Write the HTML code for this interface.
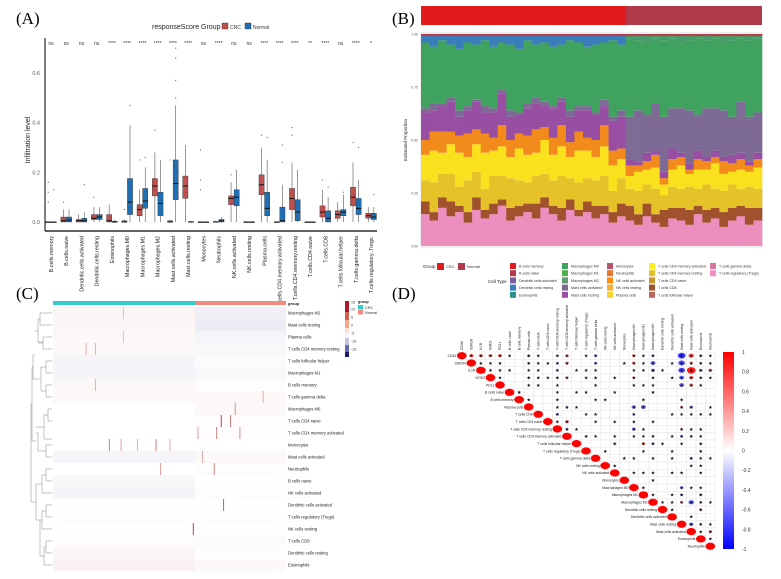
<!DOCTYPE html>
<html><head><meta charset="utf-8">
<style>
html,body{margin:0;padding:0;background:#fff;}
svg{display:block;font-family:"Liberation Sans",sans-serif;}
.pl{font-family:"Liberation Serif",serif;font-size:17px;}
</style></head>
<body>
<svg id="fig" width="781" height="579" viewBox="0 0 781 579">
<text class="pl" x="16" y="24">(A)</text>
<text class="pl" x="392" y="24">(B)</text>
<text class="pl" x="16" y="299">(C)</text>
<text class="pl" x="392" y="299">(D)</text>
<g id="pa"></g>
<g id="pb"></g>
<g id="pc"></g>
<g id="pd"></g>
</svg>
<script>
// ---------- Panel A data ----------
const catsA=["B.cells.memory","B.cells.naive","Dendritic.cells.activated","Dendritic.cells.resting","Eosinophils","Macrophages.M0","Macrophages.M1","Macrophages.M2","Mast.cells.activated","Mast.cells.resting","Monocytes","Neutrophils","NK.cells.activated","NK.cells.resting","Plasma.cells","T.cells.CD4.memory.activated","T.cells.CD4.memory.resting","T.cells.CD4.naive","T.cells.CD8","T.cells.follicular.helper","T.cells.gamma.delta","T.cells.regulatory..Tregs."];
// [q1, median, q3, upper whisker]
const crcBox=[[0,0,0,0],[0,.005,.02,.05],[0,.005,.01,.03],[.01,.015,.03,.06],[0,.005,.03,.07],[0,0,.005,.01],[.025,.05,.07,.13],[.105,.145,.175,.28],[0,0,.005,.01],[.095,.145,.185,.31],[0,0,0,0],[0,0,.002,.005],[.07,.095,.105,.16],[0,0,0,0],[.11,.15,.19,.30],[0,0,0,0],[.05,.095,.135,.24],[0,0,0,0],[.02,.04,.065,.13],[.015,.03,.045,.08],[.065,.10,.14,.24],[.015,.025,.035,.06]];
const normBox=[[0,0,0,0],[0,.008,.02,.05],[0,.005,.015,.04],[.01,.02,.03,.06],[0,0,.003,.01],[.03,.08,.175,.39],[.055,.085,.135,.22],[.025,.075,.12,.25],[.09,.155,.25,.47],[0,0,.002,.005],[0,0,0,0],[0,.005,.01,.02],[.065,.10,.13,.21],[0,0,0,0],[.025,.055,.12,.25],[0,.005,.06,.15],[.005,.04,.09,.21],[0,0,0,0],[0,.015,.045,.10],[.025,.04,.05,.11],[.03,.055,.095,.17],[.01,.02,.035,.06]];
const sigA=["ns","ns","ns","ns","****","****","****","****","****","****","ns","****","ns","ns","****","****","****","**","****","ns","****","*"];
// outliers: [category, group(0 CRC,1 Normal), value]
const outA=[[0,0,.16],[0,0,.12],[0,0,.08],[0,1,.13],[1,0,.08],[2,1,.15],[3,0,.1],[5,1,.47],[5,0,.05],[6,0,.25],[6,1,.26],[7,0,.37],[8,1,.7],[8,1,.66],[8,1,.57],[8,1,.5],[8,0,.25],[10,0,.29],[10,0,.17],[10,0,.13],[12,0,.19],[14,0,.35],[14,1,.34],[15,1,.31],[15,1,.24],[16,0,.38],[16,0,.35],[18,0,.17],[18,1,.14],[19,1,.12],[20,0,.32],[20,1,.3],[21,1,.11]];
const ticksA=[0,0.2,0.4,0.6];

const NS="http://www.w3.org/2000/svg";
function mk(p,tag,at,txt){const e=document.createElementNS(NS,tag);for(const k in at)e.setAttribute(k,at[k]);if(txt!==undefined)e.textContent=txt;p.appendChild(e);return e;}

(function(){
const g=document.getElementById('pa');
const yA=v=>222-v*248.3, xA=i=>51+i*15.24;
const t=mk(g,'text',{x:152,y:29,'font-size':7,fill:'#222'},'responseScore Group');

[[222,'#c0504d','CRC'],[245,'#1f6fb2','Normal']].forEach(d=>{
 const r=mk(g,'rect',{x:d[0],y:23,width:6,height:6,fill:d[1],stroke:'#333','stroke-width':.4});
 
 const l=mk(g,'text',{x:d[0]+8,y:29,'font-size':5,fill:'#333'},d[2]);
 });
ticksA.forEach(v=>{const l=mk(g,'text',{x:40,y:yA(v)+2,'font-size':5.5,fill:'#555','text-anchor':'end'},v.toFixed(1));
 });
const yt=mk(g,'text',{x:0,y:0,'font-size':7,fill:'#222','text-anchor':'middle',transform:'translate(30,140) rotate(-90)'},'Infiltration level');

const ya=mk(g,'line',{x1:45,y1:38,x2:45,y2:231,stroke:'#000','stroke-width':1});

const xa=mk(g,'line',{x1:45,y1:231,x2:377,y2:231,stroke:'#000','stroke-width':1.2});

catsA.forEach((c,i)=>{
 const cx=xA(i);
 [[crcBox[i],'#c0504d',-2.8,'crc'],[normBox[i],'#1f6fb2',2.8,'normal']].forEach(b=>{
  const d=b[0],bx=cx+b[2];
  const w=mk(g,'line',{x1:bx,y1:yA(d[3]),x2:bx,y2:yA(0),stroke:'#555','stroke-width':.6});
  
  const r=mk(g,'rect',{x:bx-2.6,y:yA(d[2]),width:5.2,height:Math.max(.6,yA(d[0])-yA(d[2])),fill:b[1],stroke:'#333','stroke-width':.4});
  
  const m=mk(g,'line',{x1:bx-2.6,y1:yA(d[1]),x2:bx+2.6,y2:yA(d[1]),stroke:'#111','stroke-width':1});
  
 });
 const s=mk(g,'text',{x:cx,y:45,'font-size':5,fill:'#333','text-anchor':'middle'},sigA[i]);
 
 const l=mk(g,'text',{x:0,y:0,'font-size':5.3,fill:'#222','text-anchor':'end',transform:`translate(${cx+2},236) rotate(-90)`},c);
 
});
outA.forEach(o=>{const p=mk(g,'circle',{cx:xA(o[0])+(o[1]?2.8:-2.8),cy:yA(o[2]),r:.6,fill:'#666'});
 });
})();

// ---------- Panel B data ----------
const groupsB=["CRC","CRC","CRC","CRC","CRC","CRC","CRC","CRC","CRC","CRC","CRC","CRC","CRC","CRC","CRC","CRC","CRC","CRC","CRC","CRC","CRC","CRC","CRC","CRC","Normal","Normal","Normal","Normal","Normal","Normal","Normal","Normal","Normal","Normal","Normal","Normal","Normal","Normal","Normal","Normal"];
const pinkB=[.15,.12,.18,.14,.16,.11,.17,.13,.15,.19,.12,.14,.16,.13,.18,.15,.12,.17,.14,.16,.13,.15,.11,.14,.12,.10,.14,.11,.09,.13,.12,.10,.15,.11,.13,.09,.12,.14,.10,.12];
const brownB=[.06,.04,.05,.07,.03,.05,.06,.04,.05,.03,.06,.05,.04,.07,.05,.04,.06,.05,.03,.05,.06,.04,.05,.06,.07,.05,.06,.04,.08,.05,.06,.07,.04,.06,.05,.07,.06,.05,.08,.06];
const goldB=[.10,.14,.11,.13,.09,.15,.12,.10,.13,.11,.14,.12,.10,.13,.11,.12,.15,.10,.13,.11,.12,.14,.10,.12,.08,.11,.09,.12,.07,.10,.09,.11,.08,.12,.09,.10,.11,.08,.10,.09];
const yellowB=[.12,.15,.10,.14,.16,.11,.13,.17,.12,.14,.10,.15,.13,.11,.16,.12,.14,.10,.15,.13,.11,.14,.12,.09,.06,.09,.07,.10,.05,.08,.11,.06,.09,.07,.12,.08,.06,.09,.07,.10];
const orangeB=[.07,.09,.10,.06,.08,.11,.07,.09,.06,.10,.08,.07,.09,.11,.06,.08,.10,.07,.09,.06,.08,.10,.07,.05,.05,.03,.04,.06,.03,.05,.04,.02,.05,.04,.03,.06,.04,.05,.03,.04];
const purpleB=[.13,.10,.12,.14,.09,.11,.13,.10,.12,.15,.11,.09,.13,.12,.10,.14,.11,.12,.10,.13,.12,.09,.14,.15,.03,.02,.04,.02,.03,.05,.02,.03,.04,.02,.03,.02,.04,.03,.02,.03];
const mauveB=[.02,.03,.01,.02,.03,.02,.01,.03,.02,.02,.03,.01,.02,.03,.02,.01,.02,.03,.02,.02,.01,.03,.02,.03,.20,.24,.18,.22,.26,.19,.21,.25,.17,.23,.20,.22,.18,.24,.21,.19];
const topB=[.04,.06,.03,.05,.07,.04,.05,.03,.06,.04,.05,.07,.03,.05,.04,.06,.05,.03,.04,.06,.05,.04,.03,.05,.02,.03,.04,.02,.03,.02,.04,.03,.02,.03,.02,.04,.03,.02,.03,.02];
const ticksB=[0,0.25,0.5,0.75,1];
const cellTypesB=[["B cells memory","#e31a1c"],["B cells naive","#b03a4a"],["Dendritic cells activated","#7a5c9e"],["Dendritic cells resting","#3a7dbb"],["Eosinophils","#2f8f8a"],["Macrophages M0","#3fa35f"],["Macrophages M1","#4cb04a"],["Macrophages M2","#5e9e6e"],["Mast cells activated","#7d6b95"],["Mast cells resting","#984ea3"],["Monocytes","#b5566e"],["Neutrophils","#e8772e"],["NK cells activated","#ff8c00"],["NK cells resting","#f2b134"],["Plasma cells","#f7d033"],["T cells CD4 memory activated","#ffee22"],["T cells CD4 memory resting","#e6c229"],["T cells CD4 naive","#c8962a"],["T cells CD8","#a0522d"],["T cells follicular helper","#c0645a"],["T cells gamma delta","#d9779b"],["T cells regulatory (Tregs)","#f08fc0"]];

(function(){
const g=document.getElementById('pb');
const x0=421,x1=762,yB=v=>246-v*212;
const gb1=mk(g,'rect',{x:421,y:6,width:205,height:19,fill:'#e31a1c'});

const gb2=mk(g,'rect',{x:626,y:6,width:136,height:19,fill:'#b03a4a'});

const fr=mk(g,'rect',{x:x0,y:33,width:x1-x0,height:214,fill:'#fff',stroke:'#ccc','stroke-width':.6});

const layers=[[pinkB,'#ec8fbf'],[brownB,'#a0522d'],[goldB,'#e6c229'],[yellowB,'#f9e11e'],[orangeB,'#f28a1c'],[purpleB,'#984ea3'],[mauveB,'#7d6b95']];
const n=groupsB.length,bw=(x1-x0)/n;
for(let i=0;i<n;i++){
 let acc=0;const bx=x0+i*bw;
 layers.forEach(L=>{const v=L[0][i];
  const r=mk(g,'rect',{x:bx,y:yB(acc+v),width:bw+.3,height:yB(acc)-yB(acc+v),fill:L[1]});
  acc+=v;});
 const topStart=1-topB[i];
 const gr=mk(g,'rect',{x:bx,y:yB(topStart),width:bw+.3,height:yB(acc)-yB(topStart),fill:'#3fa35f'});
 
 const tp=mk(g,'rect',{x:bx,y:yB(1),width:bw+.3,height:yB(topStart)-yB(1),fill:groupsB[i]=='CRC'?'#3a7dbb':'#4a9a6a'});
 
 const rd=mk(g,'rect',{x:bx,y:yB(1),width:bw+.3,height:2,fill:'#c0394b'});
 
}
ticksB.forEach(v=>{const l=mk(g,'text',{x:418,y:yB(v)+1.5,'font-size':3.5,fill:'#555','text-anchor':'end'},v.toFixed(2));
 });
const yt=mk(g,'text',{x:0,y:0,'font-size':4.5,fill:'#222','text-anchor':'middle',transform:'translate(407,140) rotate(-90)'},'Estimated Proportion');

const gt=mk(g,'text',{x:423,y:268,'font-size':4.5,fill:'#222'},'Group');

[[437,'#e31a1c','CRC'],[458,'#b03a4a','Normal']].forEach(d=>{
 const r=mk(g,'rect',{x:d[0],y:263,width:7,height:7,fill:d[1]});
 const l=mk(g,'text',{x:d[0]+9,y:268,'font-size':4,fill:'#333'},d[2]);});
const ct=mk(g,'text',{x:488,y:283,'font-size':4.5,fill:'#222'},'Cell Type');

const colsX=[510,562,607,649,710];
cellTypesB.forEach((c,i)=>{const col=Math.floor(i/5),row=i%5;
 const cx=colsX[col],cy=263+row*7.2;
 const r=mk(g,'rect',{x:cx,y:cy,width:6,height:6,fill:c[1]});
 const l=mk(g,'text',{x:cx+9,y:cy+4.5,'font-size':3.6,fill:'#333'},c[0]);});
})();

// ---------- Panel C data ----------
const rowsC=["Macrophages M2","Mast cells resting","Plasma cells","T cells CD4 memory resting","T cells follicular helper","Macrophages M1","B cells memory","T cells gamma delta","Macrophages M0","T cells CD4 naive","T cells CD4 memory activated","Monocytes","Mast cells activated","Neutrophils","B cells naive","NK cells activated","Dendritic cells activated","T cells regulatory (Tregs)","NK cells resting","T cells CD8","Dendritic cells resting","Eosinophils"];
const crcTint=[1.5,1.5,1,1,-1.5,-1.5,1,1,0,0,0,0,-1.5,0,-1,-1.5,0,0.5,0,0.5,1.5,2];
const normTint=[-2,-2.5,-1.5,-1,-0.5,-1,0.5,1,1,0.5,0.5,0,1,0.5,0,0.5,0,0.5,0,-0.5,0.5,1];
// stripes: [row, position 0..1 across samples, value]
const stripesC=[[11,0.24,9],[11,0.29,7],[11,0.36,6],[11,0.44,10],[11,0.5,6],[13,0.46,8],[9,0.72,14],[9,0.76,10],[10,0.7,9],[10,0.8,8],[10,0.62,7],[8,0.78,8],[16,0.73,12],[18,0.6,14],[3,0.14,6],[3,0.18,6],[0,0.3,5],[12,0.64,7],[13,0.69,9],[7,0.9,6],[6,0.18,6],[2,0.3,5]];

(function(){
const g=document.getElementById('pc');
const x0=53,x1=286,y0=307,rh=12,split=195;
const col=(v,s)=>{const a=Math.min(1,Math.abs(v)/s);return v>=0?`rgb(${255-a*75},${255-a*200},${255-a*200})`:`rgb(${255-a*225},${255-a*225},${255-a*130})`;};
const b1=mk(g,'rect',{x:x0,y:301,width:split-x0,height:4,fill:'#33cccc'});
const b2=mk(g,'rect',{x:split,y:301,width:x1-split,height:4,fill:'#f08b7d'});
const gl=mk(g,'text',{x:288,y:305,'font-size':4,fill:'#222','font-weight':'bold'},'group');
rowsC.forEach((r,i)=>{const y=y0+i*rh;
 const a=mk(g,'rect',{x:x0,y:y,width:split-x0,height:rh,fill:col(crcTint[i],30)});
 const b=mk(g,'rect',{x:split,y:y,width:x1-split,height:rh,fill:col(normTint[i],30)});
 const l=mk(g,'text',{x:288,y:y+7.5,'font-size':4.2,fill:'#222'},r);
});
stripesC.forEach(s=>{const sr=mk(g,'rect',{x:x0+s[1]*(x1-x0),y:y0+s[0]*rh,width:1,height:rh,fill:col(s[2],15)});
 });
const dp="M52,313H40V325H52M40,319H38V342H43M52,337H43V349H52M43,343H38M38,331H35M52,361H46V373H52M52,385H46V397H52M46,367H41V391H46M41,379H35M35,355H33V379H35M52,409H48V421H52M48,415H44V439H52M44,427H36M52,445H46V457H52M46,451H38V433H36M36,441H32V367H33M52,469H46V481H52M46,475H42V493H52M42,484H36M52,505H46V517H52M46,511H42V529H52M42,520H40M52,541H46V553H52M46,547H44V565H52M44,556H40V520H36V484M36,502H31V404H32";
const d=mk(g,'path',{d:dp,fill:'none',stroke:'#888','stroke-width':.5});
const cb=[[301,'#b2182b'],[312,'#d6604d'],[320,'#f4a582'],[328,'#fbe0d8'],[333,'#f4f4fb'],[338,'#c5c5e0'],[345,'#6a6ab0'],[352,'#1a1a6e']];
cb.forEach((c,i)=>{const h=(i<cb.length-1?cb[i+1][0]:357)-c[0];
 const r=mk(g,'rect',{x:345,y:c[0],width:4,height:h,fill:c[1]});});
[["15",302],["10",309],["5",317],["0",325],["-5",333],["-10",341],["-15",349]].forEach(t=>{
 const l=mk(g,'text',{x:351,y:t[1]+1.5,'font-size':3.6,fill:'#333'},t[0]);});
const lt=mk(g,'text',{x:358,y:303,'font-size':3.8,fill:'#222','font-weight':'bold'},'group');
[[305,'#33cccc','CRC'],[310,'#f08b7d','Normal']].forEach(d2=>{
 const r=mk(g,'rect',{x:358,y:d2[0],width:5,height:4.5,fill:d2[1]});
 const l=mk(g,'text',{x:365,y:d2[0]+3.8,'font-size':3.8,fill:'#333'},d2[2]);});
})();

// ---------- Panel D data ----------
const varsD=["CD44","SSR2N","IL1R","NOD2","PDL1","B cells naive","B cells memory","Plasma cells","T cells CD8","T cells CD4 naive","T cells CD4 memory resting","T cells CD4 memory activated","T cells follicular helper","T cells regulatory (Tregs)","T cells gamma delta","NK cells resting","NK cells activated","Monocytes","Macrophages M0","Macrophages M1","Macrophages M2","Dendritic cells resting","Dendritic cells activated","Mast cells resting","Mast cells activated","Eosinophils","Neutrophils"];
// [row, col, r, significant(1/0)]
const corrD=[[0,1,.5,1],[0,2,.45,1],[0,3,.45,1],[0,4,.45,1],[0,5,.12,1],[0,7,-.35,1],[0,8,-.2,1],[0,10,-.3,1],[0,11,.4,1],[0,13,.1,1],[0,14,-.35,1],[0,18,.4,1],[0,19,.2,1],[0,20,-.35,1],[0,23,-.8,1],[0,24,.6,1],[0,25,-.35,1],[0,26,.2,1],
[1,2,.2,1],[1,3,.2,1],[1,4,.2,1],[1,7,-.3,1],[1,8,-.2,1],[1,9,.1,1],[1,10,-.3,1],[1,11,.4,1],[1,14,-.35,1],[1,17,.1,1],[1,18,.4,1],[1,19,.2,1],[1,20,-.55,1],[1,22,.1,1],[1,23,-.7,1],[1,24,.4,1],[1,25,-.3,1],[1,26,.2,1],
[2,3,.2,1],[2,4,.2,1],[2,5,.12,1],[2,7,-.25,1],[2,8,.2,1],[2,10,-.3,1],[2,12,.1,1],[2,13,.1,1],[2,14,.2,1],[2,18,.2,1],[2,19,.2,1],[2,20,-.45,1],[2,21,.15,1],[2,23,-.7,1],[2,24,.9,1],[2,25,-.4,1],[2,26,.45,1],
[3,4,.2,1],[3,7,-.3,1],[3,8,.2,1],[3,9,.1,1],[3,10,-.3,1],[3,11,.35,1],[3,13,.1,1],[3,14,.2,1],[3,16,.1,1],[3,18,.35,1],[3,20,.2,1],[3,22,.1,1],[3,23,-.55,1],[3,24,.5,1],[3,25,-.3,1],[3,26,.2,1],
[4,7,-.2,1],[4,8,.2,1],[4,10,.2,1],[4,14,.2,1],[4,18,.2,1],[4,19,.2,1],[4,20,.2,1],[4,23,-.55,1],[4,24,.45,1],[4,25,.2,1],
[5,6,-.3,1],[5,10,.15,1],[5,12,.15,1],[5,13,.12,1],[5,16,.12,1],[5,20,-.3,1],[6,7,.1,1],[6,10,.2,1],[6,14,.15,1],[6,15,.12,1],[6,19,.15,1],[6,23,.12,1],
[7,10,.15,1],[7,11,-.3,1],[7,12,.2,1],[7,18,-.5,1],[7,19,-.55,1],[7,23,.35,1],[7,24,-.4,1],[7,26,.15,1],
[8,10,-.35,1],[8,13,.12,1],[8,14,.15,1],[8,18,-.3,1],[8,22,.12,1],[8,23,.15,1],[8,24,.15,1],[8,25,.15,1],[8,26,.15,1],
[9,10,.15,1],[9,11,.45,1],[9,14,.15,1],[9,16,.12,1],[9,18,.15,1],[9,20,.15,1],[10,11,-.35,1],[10,12,.12,1],[10,18,-.45,1],[10,19,.2,1],[10,23,.3,1],[10,24,.15,1],[10,25,.15,1],
[11,13,-.3,1],[11,14,.2,1],[11,16,.15,1],[11,18,.2,1],[11,19,.15,1],[11,20,-.3,1],[11,22,.12,1],[11,23,-.35,1],[11,24,-.3,1],[11,25,.15,1],
[12,16,.35,1],[12,19,.4,1],[12,20,-.35,1],[12,21,.12,1],[12,23,.15,1],[12,25,-.3,1],[13,15,.12,1],[13,19,.15,1],[13,22,.12,1],[13,25,.3,1],
[14,17,.12,1],[14,18,.12,1],[14,20,.12,1],[14,22,.12,1],[14,24,-.35,1],[14,25,.15,1],[14,26,.15,1],[15,16,.12,1],[15,24,.15,1],[15,25,.15,1],
[16,18,.15,1],[16,19,.15,1],[16,20,.15,1],[16,22,.15,1],[16,23,.15,1],[16,25,.15,1],[17,20,.15,1],[18,19,.15,1],[18,23,-.4,1],[18,24,.15,1],[18,25,.15,1],
[19,20,.15,1],[19,22,.12,1],[19,23,-.35,1],[19,25,-.35,1],[20,21,.15,1],[20,22,.15,1],[20,23,.35,1],[20,24,-.6,1],[20,25,.3,1],[20,26,.15,1],
[21,22,.15,1],[21,25,.35,1],[22,24,.15,1],[23,24,-.5,1],[23,25,.35,1],[23,26,.15,1],[24,25,.2,1],[24,26,.4,1],[25,26,.15,1]];
const ticksD=[1,0.8,0.6,0.4,0.2,0,-0.2,-0.4,-0.6,-0.8,-1];

(function(){
const g=document.getElementById('pd');
const x0=457,y0=352,cw=9.56,ch=7.33,n=varsD.length;
const cx=j=>x0+j*cw+cw/2, cy=i=>y0+i*ch+ch/2;
const colr=v=>{const a=Math.min(1,Math.abs(v));return v>=0?`rgb(255,${Math.round(255*(1-a))},${Math.round(255*(1-a))})`:`rgb(${Math.round(255*(1-a))},${Math.round(255*(1-a))},255)`;};
for(let i=0;i<n;i++){for(let j=i;j<n;j++){
 const c=mk(g,'rect',{x:x0+j*cw,y:y0+i*ch,width:cw,height:ch,fill:'none',stroke:'#e4e4e4','stroke-width':.4});
 }}
for(let i=0;i<n;i++){
 const e=mk(g,'ellipse',{cx:cx(i),cy:cy(i),rx:4.8,ry:3.6,fill:colr(1)});
 const l=mk(g,'text',{x:cx(i)-5.5,y:cy(i)+1.3,'font-size':3.4,fill:'#222','text-anchor':'end'},varsD[i]);
 
 const t=mk(g,'text',{x:0,y:0,'font-size':3.4,fill:'#222',transform:`translate(${cx(i)+1.2},${y0-2}) rotate(-90)`},varsD[i]);
 
}
corrD.forEach(d=>{const a=Math.abs(d[2]);
 const e=mk(g,'ellipse',{cx:cx(d[1]),cy:cy(d[0]),rx:4.8*a,ry:3.6*a,fill:colr(d[2])});
 
 if(d[3]){const s=mk(g,'text',{x:cx(d[1]),y:cy(d[0])+1.8,'font-size':5,fill:'#111','text-anchor':'middle'},'★');
  }
});
const def=mk(g,'defs',{});const lg=mk(def,'linearGradient',{id:'cbd',x1:0,y1:0,x2:0,y2:1});
[['0%','#ff0000'],['50%','#ffffff'],['100%','#0000ff']].forEach(s=>mk(lg,'stop',{offset:s[0],'stop-color':s[1]}));
const cbar=mk(g,'rect',{x:723,y:352,width:11,height:197,fill:'url(#cbd)'});

ticksD.forEach(v=>{const y=352+(1-v)/2*197;
 const l=mk(g,'text',{x:742,y:y+2,'font-size':5,fill:'#333'},v===0?'0':String(v));
 });
})();
</script>
</body></html>
